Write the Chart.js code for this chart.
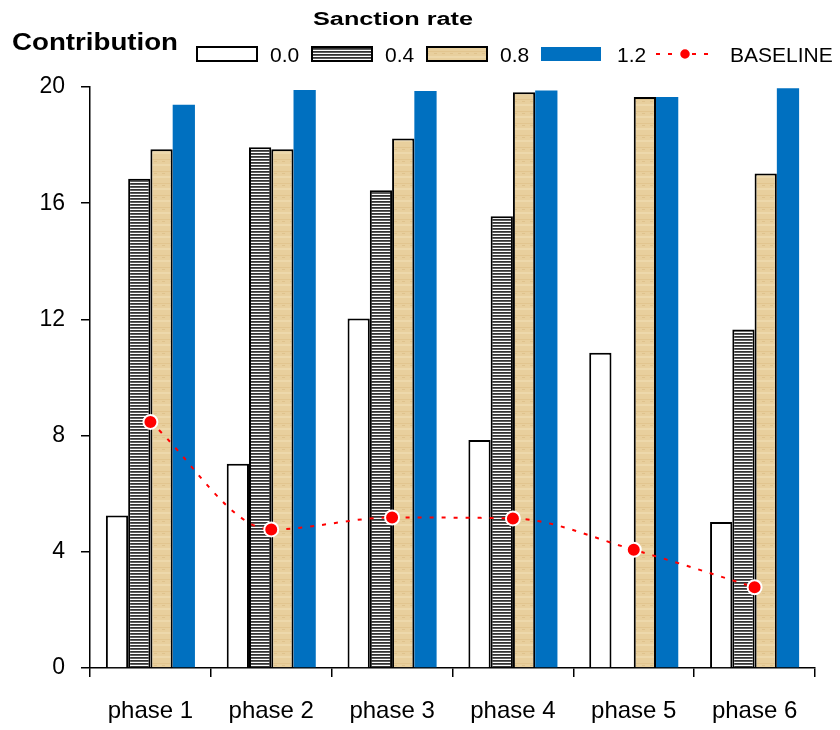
<!DOCTYPE html>
<html>
<head>
<meta charset="utf-8">
<script src="https://cdn.jsdelivr.net/npm/chart.js@4.4.1/dist/chart.umd.min.js"></script>
<style>
html,body{margin:0;padding:0;background:#fff;}
#wrap{width:840px;height:730px;}
</style>
</head>
<body>
<div id="wrap"><canvas id="c" width="840" height="730"></canvas></div>
<script>
const categories = ['phase 1', 'phase 2', 'phase 3', 'phase 4', 'phase 5', 'phase 6'];
const rate00 = [5.25, 7.03, 12.03, 7.85, 10.85, 5.03];
const rate04 = [16.84, 17.93, 16.45, 15.55, null, 11.65];
const rate08 = [17.86, 17.86, 18.23, 19.82, 19.66, 17.02];
const rate12 = [19.39, 19.9, 19.86, 19.88, 19.66, 19.96];
const baseline = [8.47, 4.77, 5.18, 5.15, 4.07, 2.78];
const seriesNames = ['0.0', '0.4', '0.8', '1.2', 'BASELINE'];
const yTicks = [0, 4, 8, 12, 16, 20];

const FONT = "'Liberation Sans', Arial, sans-serif";

function stripePattern() {
  const pc = document.createElement('canvas');
  pc.width = 4; pc.height = 3;
  const p = pc.getContext('2d');
  p.fillStyle = '#ffffff'; p.fillRect(0, 0, 4, 3);
  p.fillStyle = '#333333'; p.fillRect(0, 0, 4, 1);
  p.fillStyle = '#5e5e5e'; p.fillRect(0, 1, 4, 1);
  return p.createPattern(pc, 'repeat');
}
function tanPattern() {
  const pc = document.createElement('canvas');
  pc.width = 8; pc.height = 12;
  const p = pc.getContext('2d');
  p.fillStyle = '#E8CF9D'; p.fillRect(0, 0, 8, 12);
  p.fillStyle = '#E2C58F'; p.fillRect(0, 3, 8, 1);
  p.fillStyle = '#EDD8AB'; p.fillRect(0, 8, 8, 2);
  p.fillStyle = '#DFC28C'; p.fillRect(2, 5, 3, 1);
  return p.createPattern(pc, 'repeat');
}
const stripe = stripePattern();
const tan = tanPattern();

const legendPlugin = {
  id: 'customLegend',
  afterDraw(chart) {
    const ctx = chart.ctx;
    ctx.save();
    ctx.fillStyle = '#000';
    ctx.textBaseline = 'alphabetic';
    ctx.font = 'bold 18px ' + FONT;
    let t = 'Sanction rate';
    let w = ctx.measureText(t).width;
    ctx.save(); ctx.translate(313, 25); ctx.scale(160 / w, 1); ctx.fillText(t, 0, 0); ctx.restore();
    ctx.font = 'bold 24px ' + FONT;
    t = 'Contribution';
    w = ctx.measureText(t).width;
    ctx.save(); ctx.translate(12, 50); ctx.scale(166 / w, 1); ctx.fillText(t, 0, 0); ctx.restore();
    ctx.font = '21px ' + FONT;
    const boxes = [
      {x: 197, fill: '#ffffff', border: true, tx: 270},
      {x: 312, fill: stripe, border: true, tx: 385},
      {x: 427, fill: tan, border: true, tx: 500},
      {x: 541, fill: '#0070C0', border: false, tx: 617}
    ];
    boxes.forEach((b, i) => {
      ctx.fillStyle = b.fill;
      ctx.fillRect(b.x, 47, 60, 14);
      if (b.border) { ctx.strokeStyle = '#000'; ctx.lineWidth = 2; ctx.strokeRect(b.x, 47, 60, 14); }
      ctx.fillStyle = '#000';
      ctx.fillText(seriesNames[i], b.tx, 62);
    });
    ctx.strokeStyle = '#FF0000';
    ctx.lineWidth = 2;
    ctx.setLineDash([4, 8]);
    ctx.beginPath(); ctx.moveTo(656, 54); ctx.lineTo(714, 54); ctx.stroke();
    ctx.setLineDash([]);
    ctx.beginPath(); ctx.arc(685, 54, 5.5, 0, Math.PI * 2);
    ctx.fillStyle = '#FF0000'; ctx.fill();
    ctx.lineWidth = 1.5; ctx.strokeStyle = '#fff'; ctx.stroke();
    ctx.fillStyle = '#000';
    ctx.fillText(seriesNames[4], 730, 62);
    ctx.restore();
  }
};

new Chart(document.getElementById('c'), {
  type: 'bar',
  data: {
    labels: categories,
    datasets: [
      {label: seriesNames[4], type: 'line', data: baseline, borderColor: '#FF0000', borderWidth: 2,
       borderDash: [4, 8], cubicInterpolationMode: 'monotone', pointRadius: 7, pointBackgroundColor: '#FF0000',
       pointBorderColor: '#ffffff', pointBorderWidth: 2, fill: false, order: 0},
      {label: seriesNames[0], data: rate00, backgroundColor: '#ffffff', borderColor: '#000', borderWidth: 2, order: 1},
      {label: seriesNames[1], data: rate04, backgroundColor: stripe, borderColor: '#000', borderWidth: 2, order: 1},
      {label: seriesNames[2], data: rate08, backgroundColor: tan, borderColor: '#000', borderWidth: 2, order: 1},
      {label: seriesNames[3], data: rate12, backgroundColor: '#0070C0', borderWidth: 0, order: 1}
    ]
  },
  options: {
    responsive: false,
    animation: false,
    devicePixelRatio: 1,
    datasets: {bar: {categoryPercentage: 0.737, barPercentage: 1.0, borderSkipped: 'start'}},
    layout: {padding: {top: 87, right: 25, left: 0, bottom: 0}},
    plugins: {legend: {display: false}, tooltip: {enabled: false}},
    scales: {
      x: {
        grid: {display: true, offset: true, drawOnChartArea: false, drawTicks: true, tickLength: 9, color: '#000', lineWidth: 1.5},
        border: {display: true, color: '#000', width: 1.5},
        ticks: {color: '#000', font: {family: FONT, size: 24}, padding: 20, maxRotation: 0},
        afterFit(s) { s.height = 62; }
      },
      y: {
        min: 0, max: 20,
        afterBuildTicks(s) { s.ticks = yTicks.map(v => ({value: v})); },
        grid: {display: true, drawOnChartArea: false, drawTicks: true, tickLength: 9, color: '#000', lineWidth: 1.5},
        border: {display: true, color: '#000', width: 1.5},
        ticks: {color: '#000', font: {family: FONT, size: 23}, padding: 16},
        afterFit(s) { s.width = 90; }
      }
    }
  },
  plugins: [legendPlugin]
});
</script>
</body>
</html>
